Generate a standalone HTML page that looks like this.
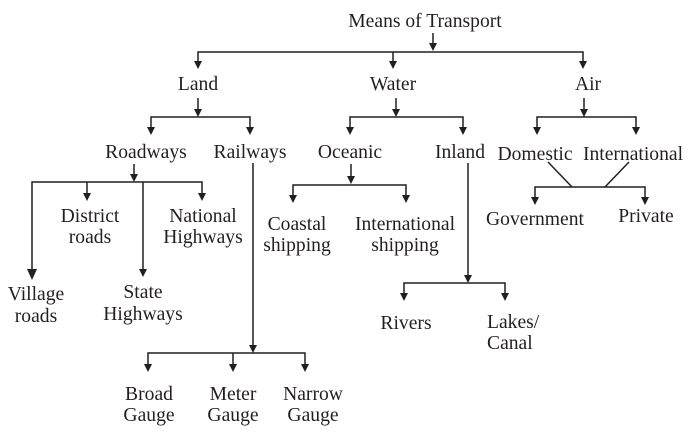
<!DOCTYPE html>
<html><head><style>
html,body{margin:0;padding:0;background:#fff;}
svg{display:block;}
text{font-family:"Liberation Serif",serif;font-size:19.6px;fill:#231f20;text-anchor:middle;}
line,polyline{stroke:#231f20;stroke-width:1.5;fill:none;}
</style></head><body>
<svg width="691" height="437" viewBox="0 0 691 437" xmlns="http://www.w3.org/2000/svg">

<text x="425" y="27">Means of Transport</text>
<line x1="433" y1="33" x2="433" y2="44"/><path d="M429,43 L437,43 L433,51 z" fill="#231f20"/>
<polyline points="198,62 198,52 583,52 583,62"/>
<path d="M194,61 L202,61 L198,69 z" fill="#231f20"/>
<line x1="393" y1="52" x2="393" y2="62"/><path d="M389,61 L397,61 L393,69 z" fill="#231f20"/>
<path d="M579,61 L587,61 L583,69 z" fill="#231f20"/>

<text x="198" y="90">Land</text>
<text x="393" y="90">Water</text>
<text x="588" y="90">Air</text>

<!-- Land -->
<line x1="198" y1="98" x2="198" y2="110"/><path d="M194,109 L202,109 L198,117 z" fill="#231f20"/>
<polyline points="151,128 151,117 250,117 250,128"/>
<path d="M147,127 L155,127 L151,135 z" fill="#231f20"/>
<path d="M246,127 L254,127 L250,135 z" fill="#231f20"/>
<!-- Water -->
<line x1="396" y1="98" x2="396" y2="110"/><path d="M392,109 L400,109 L396,117 z" fill="#231f20"/>
<polyline points="350,128 350,117 463,117 463,128"/>
<path d="M346,127 L354,127 L350,135 z" fill="#231f20"/>
<path d="M459,127 L467,127 L463,135 z" fill="#231f20"/>
<!-- Air -->
<line x1="584" y1="98" x2="584" y2="110"/><path d="M580,109 L588,109 L584,117 z" fill="#231f20"/>
<polyline points="537,128 537,117 636,117 636,128"/>
<path d="M533,127 L541,127 L537,135 z" fill="#231f20"/>
<path d="M632,127 L640,127 L636,135 z" fill="#231f20"/>

<text x="146" y="158">Roadways</text>
<text x="250" y="158">Railways</text>
<text x="350" y="158">Oceanic</text>
<text x="460" y="158">Inland</text>
<text x="535" y="160">Domestic</text>
<text x="633" y="160">International</text>

<!-- Roadways -->
<line x1="134" y1="164" x2="134" y2="175"/><path d="M130,174 L138,174 L134,182 z" fill="#231f20"/>
<polyline points="32,272 32,182 202,182 202,194"/>
<path d="M27,269 L37,269 L32,280 z" fill="#231f20"/>
<line x1="87" y1="182" x2="87" y2="194"/><path d="M83,193 L91,193 L87,201 z" fill="#231f20"/>
<path d="M198,193 L206,193 L202,201 z" fill="#231f20"/>
<line x1="143" y1="182" x2="143" y2="270"/><path d="M139,269 L147,269 L143,277 z" fill="#231f20"/>

<text x="90" y="222">District</text><text x="90" y="243">roads</text>
<text x="203" y="222">National</text><text x="203" y="243">Highways</text>
<text x="36" y="300">Village</text><text x="36" y="322">roads</text>
<text x="143" y="298">State</text><text x="143" y="320">Highways</text>

<!-- Railways -->
<line x1="253" y1="163" x2="253" y2="346"/><path d="M249,345 L257,345 L253,353 z" fill="#231f20"/>
<polyline points="148,365 148,353 305,353 305,365"/>
<path d="M144,364 L152,364 L148,372 z" fill="#231f20"/>
<line x1="233" y1="353" x2="233" y2="365"/><path d="M229,364 L237,364 L233,372 z" fill="#231f20"/>
<path d="M301,364 L309,364 L305,372 z" fill="#231f20"/>
<text x="149" y="400">Broad</text><text x="149" y="421">Gauge</text>
<text x="233" y="400">Meter</text><text x="233" y="421">Gauge</text>
<text x="313" y="400">Narrow</text><text x="313" y="421">Gauge</text>

<!-- Oceanic -->
<line x1="351" y1="164" x2="351" y2="177"/><path d="M347,176 L355,176 L351,184 z" fill="#231f20"/>
<polyline points="293,196 293,185 406,185 406,196"/>
<path d="M289,195 L297,195 L293,203 z" fill="#231f20"/>
<path d="M402,195 L410,195 L406,203 z" fill="#231f20"/>
<text x="297" y="230">Coastal</text><text x="297" y="251">shipping</text>
<text x="405" y="230">International</text><text x="405" y="251">shipping</text>

<!-- Inland -->
<line x1="468" y1="163" x2="468" y2="276"/><path d="M464,275 L472,275 L468,283 z" fill="#231f20"/>
<polyline points="404,294 404,283 505,283 505,294"/>
<path d="M400,293 L408,293 L404,301 z" fill="#231f20"/>
<path d="M501,293 L509,293 L505,301 z" fill="#231f20"/>
<text x="406" y="329">Rivers</text>
<text x="487" y="328" style="text-anchor:start">Lakes/</text><text x="487" y="349" style="text-anchor:start">Canal</text>

<!-- Air bottom -->
<line x1="548" y1="162" x2="572" y2="187"/>
<line x1="629" y1="162" x2="605" y2="187"/>
<polyline points="535,198 535,187 645,187 645,198"/>
<path d="M531,197 L539,197 L535,205 z" fill="#231f20"/>
<path d="M641,197 L649,197 L645,205 z" fill="#231f20"/>
<text x="535" y="225">Government</text>
<text x="646" y="222">Private</text>
</svg>
</body></html>
